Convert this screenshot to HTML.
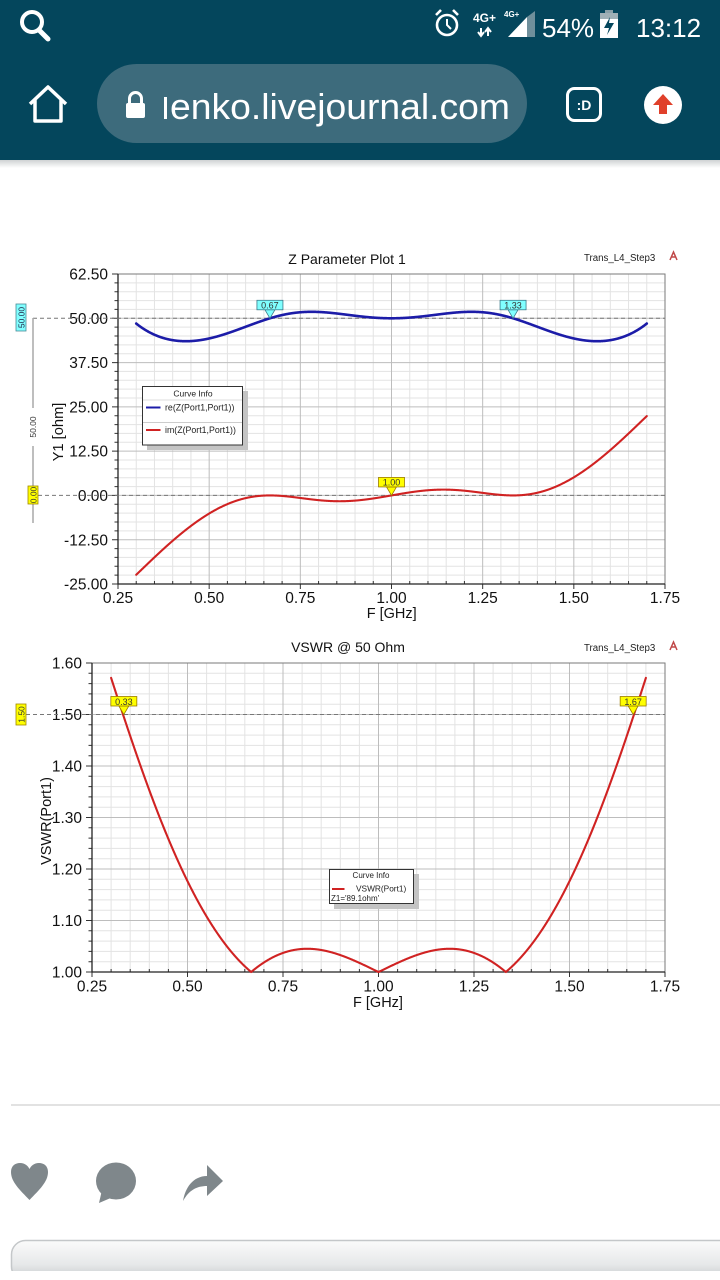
<!DOCTYPE html>
<html><head><meta charset="utf-8">
<style>
html,body{margin:0;padding:0;width:720px;height:1280px;overflow:hidden;background:#fff;}
svg{display:block;}
</style></head><body>
<svg id="s" width="720" height="1280" viewBox="0 0 720 1280" xmlns="http://www.w3.org/2000/svg" font-family="Liberation Sans, Arial, sans-serif">
<defs>
<linearGradient id="sh" x1="0" y1="0" x2="0" y2="1"><stop offset="0" stop-color="#cfd2d3"/><stop offset="1" stop-color="#ffffff"/></linearGradient>
<linearGradient id="inp" x1="0" y1="0" x2="0" y2="1"><stop offset="0" stop-color="#fbfbfb"/><stop offset="0.6" stop-color="#e6e8e9"/><stop offset="1" stop-color="#c4c8ca"/></linearGradient>
</defs>
<rect width="720" height="1280" fill="#fff"/>
<!-- header -->
<rect x="0" y="0" width="720" height="160" fill="#04465c"/>
<rect x="0" y="160" width="720" height="8" fill="url(#sh)"/>
<!-- status bar -->
<circle cx="32" cy="22" r="10" stroke="#fff" stroke-width="4" fill="none"/>
<line x1="39" y1="30" x2="48" y2="39" stroke="#fff" stroke-width="5" stroke-linecap="round"/>
<circle cx="447" cy="25" r="10" stroke="#fff" stroke-width="2.6" fill="none"/>
<path d="M447,19V25L451,29" stroke="#fff" stroke-width="2" fill="none"/>
<path d="M436,15L441,10M458,15L453,10" stroke="#fff" stroke-width="2.6"/>
<text x="473" y="22" font-size="12" fill="#fff" font-weight="bold">4G+</text>
<text x="504" y="17" font-size="8" fill="#fff" font-weight="bold">4G+</text>
<path d="M481,28V35M478,32L481,36L484,32M488,36V29M485,32L488,28L491,32" stroke="#fff" stroke-width="2" fill="none"/>
<polygon points="508,37 527,37 527,17" fill="#fff"/>
<polygon points="527,37 535,37 535,11 527,17" fill="#6f8f9b"/>
<text x="542" y="37" font-size="26" fill="#fff">54%</text>
<rect x="605" y="10" width="8" height="3" fill="#8aa0a8"/>
<rect x="600" y="13" width="18" height="25" fill="#fff"/>
<rect x="600" y="13" width="18" height="6" fill="#a0b0b6"/>
<polygon points="610,17 604,28 609,28 607,35 614,23 609,23" fill="#04465c"/>
<text x="636" y="37" font-size="26" fill="#fff">13:12</text>
<!-- nav row -->
<path d="M30,104L48,87L66,104M35,99V121H61V99" stroke="#fff" stroke-width="3.5" fill="none" stroke-linejoin="round"/>
<rect x="97" y="64" width="430" height="79" rx="39.5" fill="#3d6b7c"/>
<rect x="126" y="103" width="19" height="15" rx="2" fill="#fff"/>
<path d="M129.5,104V98.5a6,6 0 0 1 12,0V104" stroke="#fff" stroke-width="3" fill="none"/>
<rect x="164" y="97" width="3" height="22" fill="#fff"/>
<text x="170" y="119" font-size="36" fill="#fff" textLength="340" lengthAdjust="spacingAndGlyphs">enko.livejournal.com</text>
<rect x="567.5" y="88.5" width="33" height="32" rx="7" stroke="#fff" stroke-width="3" fill="none"/>
<text x="584" y="110" font-size="14" font-weight="bold" fill="#fff" text-anchor="middle">:D</text>
<circle cx="663" cy="105" r="19" fill="#fff"/>
<polygon points="663,94 673,105 667,105 667,114 659,114 659,105 653,105" fill="#e0402a"/>

<!-- chart titles -->
<text x="347" y="264" font-size="14" text-anchor="middle" fill="#111">Z Parameter Plot 1</text>
<text x="584" y="261" font-size="9.7" fill="#222">Trans_L4_Step3</text>
<path d="M670,260L673.5,252L677,260M671.5,257H675.5" stroke="#c04848" stroke-width="1.5" fill="none"/>
<text x="348" y="652" font-size="14" text-anchor="middle" fill="#111">VSWR @ 50 Ohm</text>
<text x="584" y="651" font-size="9.7" fill="#222">Trans_L4_Step3</text>
<path d="M670,650L673.5,642L677,650M671.5,647H675.5" stroke="#c04848" stroke-width="1.5" fill="none"/>

<g id="dyn"></g>

<!-- axis titles -->
<text transform="translate(63,432) rotate(-90)" font-size="14.7" text-anchor="middle" fill="#111">Y1 [ohm]</text>
<text x="391.7" y="618" font-size="14.5" text-anchor="middle" fill="#111">F [GHz]</text>
<text transform="translate(51,821) rotate(-90)" font-size="14.5" text-anchor="middle" fill="#111">VSWR(Port1)</text>
<text x="378" y="1007" font-size="14.5" text-anchor="middle" fill="#111">F [GHz]</text>

<!-- left side annotations plot 1 -->
<line x1="33" y1="318" x2="33" y2="523" stroke="#a8a8a8" stroke-width="1.5"/>
<rect x="28" y="408" width="10" height="38" fill="#fff"/>
<text transform="translate(36,427) rotate(-90)" font-size="8.5" text-anchor="middle" fill="#333">50.00</text>
<rect x="16" y="304" width="10" height="27" fill="#80ffff" stroke="#4a8a96" stroke-width="0.8"/>
<text transform="translate(24.5,317.5) rotate(-90)" font-size="8.5" text-anchor="middle" fill="#224">50.00</text>
<rect x="28" y="486" width="10" height="18" fill="#ffff00" stroke="#a08800" stroke-width="0.8"/>
<text transform="translate(36.5,495) rotate(-90)" font-size="8.5" text-anchor="middle" fill="#333">0.00</text>
<!-- plot 2 -->
<rect x="16" y="704" width="10" height="21" fill="#ffff00" stroke="#a08800" stroke-width="0.8"/>
<text transform="translate(24.5,714.5) rotate(-90)" font-size="8.5" text-anchor="middle" fill="#333">1.50</text>

<!-- bottom -->
<rect x="11" y="1104" width="709" height="2" fill="#e2e2e2"/>
<path d="M29.5,1200C20,1190 11,1182 11,1172C11,1166 15,1163 20,1163C25,1163 28,1166 29.5,1169C31,1166 34,1163 39,1163C44,1163 48,1166 48,1172C48,1182 39,1190 29.5,1200Z" fill="#7f878b"/>
<ellipse cx="116" cy="1181" rx="20" ry="18.5" fill="#7f878b"/>
<polygon points="102,1190 99,1203 113,1197" fill="#7f878b"/>
<path d="M183,1201C185,1188 193,1176 207,1176L207,1165L223,1181L207,1196L207,1186C197,1186 189,1190 183,1201Z" fill="#7f878b"/>
<rect x="11.5" y="1240.5" width="730" height="40" rx="14" fill="url(#inp)" stroke="#c4c7c9" stroke-width="1.5"/>
<rect x="0" y="1271" width="720" height="9" fill="#fff"/>
</svg>
<script>
(function(){
const NS="http://www.w3.org/2000/svg";
const g=document.getElementById('dyn');
function el(tag,attrs,txt){const e=document.createElementNS(NS,tag);for(const k in attrs)e.setAttribute(k,attrs[k]);if(txt!==undefined)e.textContent=txt;g.appendChild(e);return e;}
function mk(P){
  P.X=f=>P.x0+(f-0.25)/1.5*(P.x1-P.x0);
  P.Y=v=>P.y0+(P.vmax-v)/(P.vmax-P.vmin)*(P.y1-P.y0);
  return P;
}
function axes(P){
  let dmin='',dmaj='',tk='';
  for(let i=0;i<=30;i++){
    const x=P.X(0.25+i*0.05).toFixed(2);
    if(i%5==0){ if(i>0&&i<30) dmaj+=`M${x},${P.y0}V${P.y1}`; tk+=`M${x},${P.y1}V${P.y1+5}`;}
    else { dmin+=`M${x},${P.y0}V${P.y1}`; tk+=`M${x},${P.y1}V${P.y1-3}`;}
  }
  const ny=P.ny;
  for(let i=0;i<=ny;i++){
    const y=(P.y0+i*(P.y1-P.y0)/ny).toFixed(2);
    if(i%5==0){ if(i>0&&i<ny) dmaj+=`M${P.x0},${y}H${P.x1}`; tk+=`M${P.x0},${y}H${P.x0-6}`;}
    else { dmin+=`M${P.x0},${y}H${P.x1}`; tk+=`M${P.x0},${y}H${P.x0-3.5}`;}
  }
  el('path',{d:dmin,stroke:'#e3e3e3','stroke-width':1,fill:'none'});
  el('path',{d:dmaj,stroke:'#bdbdbd','stroke-width':1,fill:'none'});
  el('path',{d:`M${P.x0},${P.y0}H${P.x1}V${P.y1}`,stroke:'#7a7a7a','stroke-width':1,fill:'none'});
  el('path',{d:tk,stroke:'#333','stroke-width':1,fill:'none'});
  el('path',{d:`M${P.x0},${P.y0}V${P.y1}H${P.x1}`,stroke:'#222','stroke-width':1.3,fill:'none'});
  // labels
  for(let i=0;i<=6;i++){
    const f=0.25+i*0.25;
    el('text',{x:P.X(f).toFixed(2),y:P.xly,'font-size':15.5,'text-anchor':'middle',fill:'#111'},f.toFixed(2));
  }
  for(let i=0;i<=ny;i+=5){
    const v=P.vmax-i*(P.vmax-P.vmin)/ny;
    const y=P.y0+i*(P.y1-P.y0)/ny;
    el('text',{x:P.ylx,y:(y+5.6).toFixed(2),'font-size':15.5,'text-anchor':'end',fill:'#111'},v.toFixed(2));
  }
}
function gam(f){const t=Math.PI*f/2,c=Math.cos(t),gg=0.1146*c*(4*c*c-1);return [gg*Math.cos(3*t),-gg*Math.sin(3*t),gg];}
function Zf(f){const q=gam(f);const nr=1+q[0],ni=q[1],dr=1-q[0],di=-q[1];const den=dr*dr+di*di;return [50*(nr*dr+ni*di)/den,50*(ni*dr-nr*di)/den];}
function vswr(f){const a=Math.abs(gam(f)[2]);return (1+a)/(1-a);}
function curve(P,fn,col,w){
  let d='';
  for(let k=0;k<=2100;k++){const f=0.3+k/1500;const x=P.X(f),y=P.Y(fn(f));d+=(k?'L':'M')+x.toFixed(2)+','+y.toFixed(2);}
  el('path',{d,stroke:col,'stroke-width':w,fill:'none','stroke-linejoin':'round','stroke-linecap':'round'});
}
function marker(x,tipy,label,fill,stroke){
  const bw=26,bh=9.5,by=tipy-18;
  el('polygon',{points:`${x-5},${by+bh} ${x+5},${by+bh} ${x},${tipy}`,fill:fill,stroke:stroke,'stroke-width':0.8});
  el('rect',{x:(x-bw/2).toFixed(2),y:by.toFixed(2),width:bw,height:bh,fill:fill,stroke:stroke,'stroke-width':0.8});
  el('text',{x:x.toFixed(2),y:(by+8.3).toFixed(2),'font-size':9,'text-anchor':'middle',fill:'#333'},label);
}
// plot 1
const P1=mk({x0:118,x1:665,y0:274,y1:584,vmin:-25,vmax:62.5,ny:35,xly:603,ylx:108});
axes(P1);
el('path',{d:`M33,${P1.Y(50).toFixed(2)}H665`,stroke:'#777','stroke-width':1,'stroke-dasharray':'4,3',fill:'none'});
el('path',{d:`M38,${P1.Y(0).toFixed(2)}H665`,stroke:'#777','stroke-width':1,'stroke-dasharray':'4,3',fill:'none'});
curve(P1,f=>Zf(f)[0],'#1c1ca8',2.6);
curve(P1,f=>Zf(f)[1],'#d02222',2.1);
marker(P1.X(2/3),P1.Y(50),'0.67','#80ffff','#3a7a8a');
marker(P1.X(4/3),P1.Y(50),'1.33','#80ffff','#3a7a8a');
marker(P1.X(1),P1.Y(0),'1.00','#ffff00','#9a7a00');
// legend 1
el('rect',{x:147,y:391,width:101,height:59,fill:'#c4c4c4'});
el('rect',{x:142.5,y:386.5,width:100,height:58.5,fill:'#fff',stroke:'#333','stroke-width':1});
el('text',{x:193,y:396.5,'font-size':8.5,'text-anchor':'middle',fill:'#222'},'Curve Info');
el('line',{x1:143,y1:400,x2:242,y2:400,stroke:'#ddd','stroke-width':1});
el('line',{x1:146,y1:407.5,x2:160.5,y2:407.5,stroke:'#1c1ca8','stroke-width':2});
el('text',{x:165,y:410.5,'font-size':8.8,fill:'#222'},'re(Z(Port1,Port1))');
el('line',{x1:143,y1:422.5,x2:242,y2:422.5,stroke:'#ccc','stroke-width':1});
el('line',{x1:146,y1:430,x2:160.5,y2:430,stroke:'#d02222','stroke-width':2});
el('text',{x:165,y:433,'font-size':8.8,fill:'#222'},'im(Z(Port1,Port1))');
// plot 2
const P2=mk({x0:92,x1:665,y0:663,y1:972,vmin:1.0,vmax:1.6,ny:30,xly:991.5,ylx:82});
axes(P2);
el('path',{d:`M26,${P2.Y(1.5).toFixed(2)}H665`,stroke:'#777','stroke-width':1,'stroke-dasharray':'4,3',fill:'none'});
curve(P2,vswr,'#d02222',2.1);
marker(P2.X(1/3),P2.Y(1.5),'0.33','#ffff00','#9a7a00');
marker(P2.X(5/3),P2.Y(1.5),'1.67','#ffff00','#9a7a00');
// legend 2
el('rect',{x:334,y:874,width:85,height:35,fill:'#c4c4c4'});
el('rect',{x:329.5,y:869.5,width:84,height:34,fill:'#fff',stroke:'#333','stroke-width':1});
el('text',{x:371,y:878,'font-size':8,'text-anchor':'middle',fill:'#222'},'Curve Info');
el('line',{x1:332,y1:889,x2:344.5,y2:889,stroke:'#d02222','stroke-width':2});
el('text',{x:356,y:891.5,'font-size':8.3,fill:'#222'},'VSWR(Port1)');
el('text',{x:331,y:901,'font-size':8,fill:'#222'},"Z1='89.1ohm'");
})();
</script>
</body></html>
